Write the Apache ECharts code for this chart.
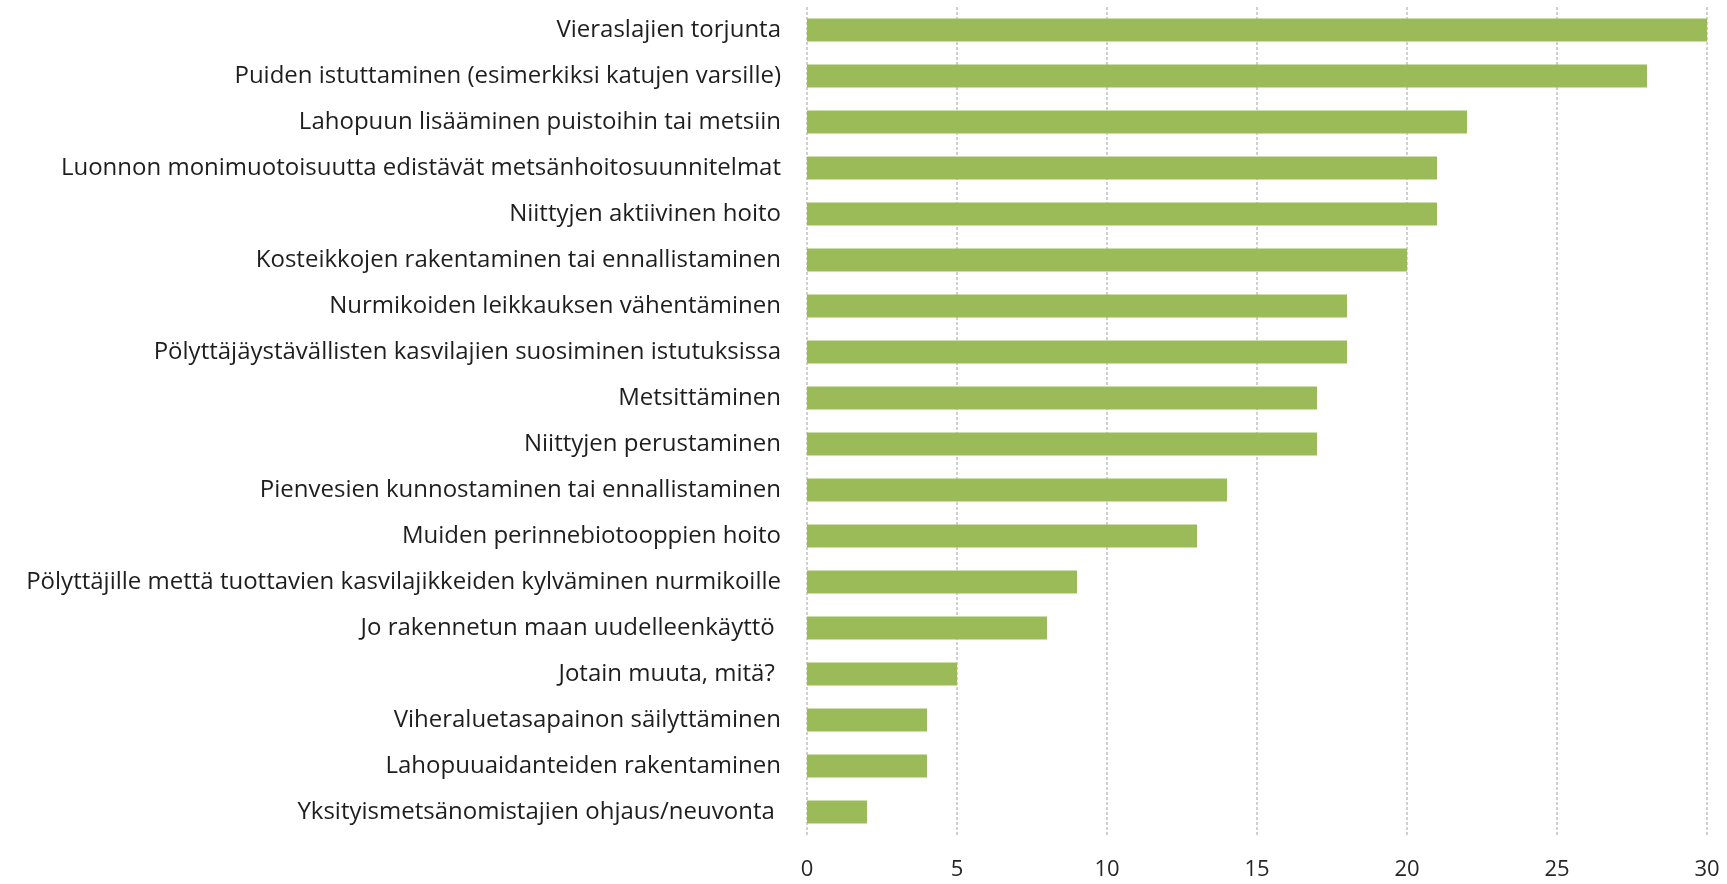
<!DOCTYPE html>
<html>
<head>
<meta charset="utf-8">
<script src="https://cdn.jsdelivr.net/npm/echarts@6/dist/echarts.min.js"></script>
<style>
  html, body { margin: 0; padding: 0; background: #fff; }
  #chart { width: 1727px; height: 884px; }
</style>
</head>
<body>
<div id="chart"></div>
<script>
// categories listed top to bottom, as in the picture
const categories = [
  "Vieraslajien torjunta",
  "Puiden istuttaminen (esimerkiksi katujen varsille)",
  "Lahopuun lisääminen puistoihin tai metsiin",
  "Luonnon monimuotoisuutta edistävät metsänhoitosuunnitelmat",
  "Niittyjen aktiivinen hoito",
  "Kosteikkojen rakentaminen tai ennallistaminen",
  "Nurmikoiden leikkauksen vähentäminen",
  "Pölyttäjäystävällisten kasvilajien suosiminen istutuksissa",
  "Metsittäminen",
  "Niittyjen perustaminen",
  "Pienvesien kunnostaminen tai ennallistaminen",
  "Muiden perinnebiotooppien hoito",
  "Pölyttäjille mettä tuottavien kasvilajikkeiden kylväminen nurmikoille",
  "Jo rakennetun maan uudelleenkäyttö ",
  "Jotain muuta, mitä? ",
  "Viheraluetasapainon säilyttäminen",
  "Lahopuuaidanteiden rakentaminen",
  "Yksityismetsänomistajien ohjaus/neuvonta "
];
const values = [30, 28, 22, 21, 21, 20, 18, 18, 17, 17, 14, 13, 9, 8, 5, 4, 4, 2];

const xTicks = { min: 0, max: 30, interval: 5 };

const chart = echarts.init(document.getElementById("chart"));
const font = '"Open Sans", sans-serif';

chart.setOption({
  backgroundColor: "#fff",
  animation: false,
  grid: {
    left: 807,
    right: 20,
    top: 7,
    bottom: 49
  },
  xAxis: {
    type: "value",
    min: xTicks.min,
    max: xTicks.max,
    interval: xTicks.interval,
    axisLine: { show: false },
    axisTick: { show: false },
    axisLabel: {
      color: "#262626",
      fontFamily: font,
      fontSize: 22,
      margin: 24
    },
    splitLine: {
      lineStyle: { color: "#d0d0d0", width: 2, type: [3, 2] }
    }
  },
  yAxis: {
    type: "category",
    inverse: true,
    data: categories,
    axisLine: { show: false },
    axisTick: { show: false },
    axisLabel: {
      color: "#1e1e1e",
      fontFamily: font,
      fontSize: 24,
      margin: 26
    }
  },
  series: [
    {
      type: "bar",
      data: values,
      barCategoryGap: "50%",
      itemStyle: { color: "#9bbb59" }
    }
  ]
});
</script>
</body>
</html>
